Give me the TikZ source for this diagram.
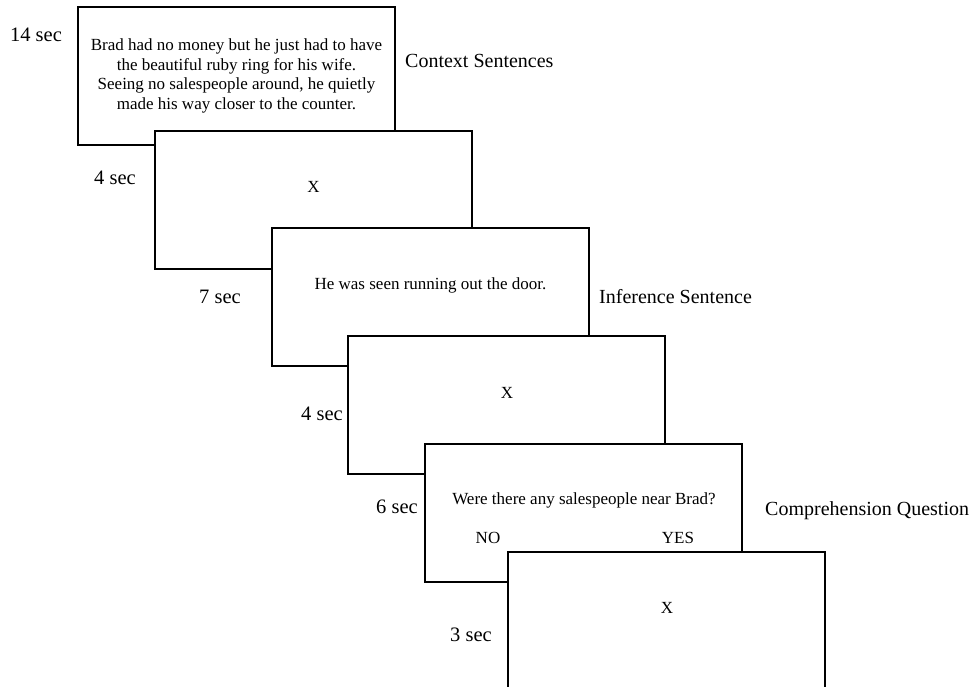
\documentclass[tikz,border=0pt]{standalone}
\usepackage{fontspec}
\setmainfont{Liberation Serif}
\begin{document}
\begin{tikzpicture}[x=1pt,y=-1pt,
  screen/.style={draw=black, fill=white, line width=1.7pt, minimum width=317pt, minimum height=138pt, anchor=north west, inner sep=0pt, outer sep=0pt},
  boxtext/.style={font=\fontsize{17}{19.5}\selectfont, align=center, inner sep=0pt},
  timelbl/.style={font=\fontsize{20.5}{24}\selectfont, inner sep=0pt},
  phaselbl/.style={font=\fontsize{20}{24}\selectfont, inner sep=0pt, anchor=west}]
\useasboundingbox (0,0) rectangle (975,686);
\clip (0,0) rectangle (975,686);
% screens
\node[screen] (b1) at (78,7) {};
\node[screen] (b2) at (155,131) {};
\node[screen] (b3) at (272,228) {};
\node[screen] (b4) at (348,336) {};
\node[screen] (b5) at (425,444) {};
\node[screen] (b6) at (508,552) {};
% screen texts
\node[boxtext] (t1) at (236.5,76) {Brad had no money but he just had to have\\the beautiful ruby ring for his wife.\\Seeing no salespeople around, he quietly\\made his way closer to the counter.};
\node[boxtext] (t2) at (313.5,187) {X};
\node[boxtext] (t3) at (430.5,285) {He was seen running out the door.};
\node[boxtext] (t4) at (507,393) {X};
\node[boxtext] (t5) at (584,500) {Were there any salespeople near Brad?};
\node[boxtext] (no) at (488,538) {NO};
\node[boxtext] (yes) at (678,538) {YES};
\node[boxtext] (t6) at (667,608) {X};
% durations
\node[timelbl] (d1) at (36,35) {14 sec};
\node[timelbl] (d2) at (115,178) {4 sec};
\node[timelbl] (d3) at (220,297) {7 sec};
\node[timelbl] (d4) at (322,414) {4 sec};
\node[timelbl] (d5) at (397,507) {6 sec};
\node[timelbl] (d6) at (471,635) {3 sec};
% phase labels
\node[phaselbl] (p1) at (405,61) {Context Sentences};
\node[phaselbl] (p2) at (599,297) {Inference Sentence};
\node[phaselbl] (p3) at (765,511) {Comprehension Question};
\end{tikzpicture}
\end{document}
